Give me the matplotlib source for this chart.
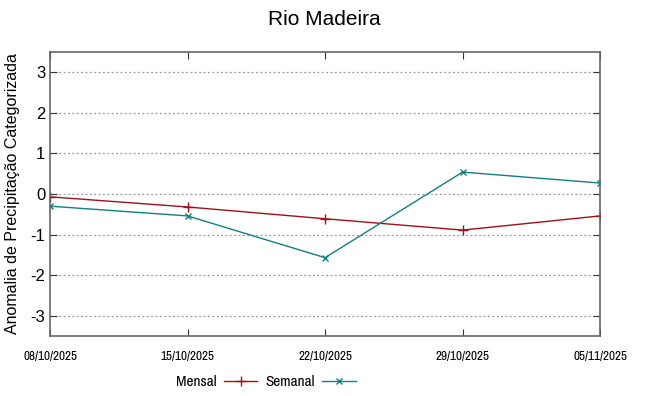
import matplotlib.pyplot as plt

datas = ["08/10/2025", "15/10/2025", "22/10/2025", "29/10/2025", "05/11/2025"]
mensal = [-0.07, -0.32, -0.61, -0.89, -0.54]
semanal = [-0.30, -0.54, -1.57, 0.54, 0.27]
yticks = [-3, -2, -1, 0, 1, 2, 3]

estreita = ['Archivo Narrow', 'Roboto Condensed', 'DejaVu Sans']
plt.rcParams['font.family'] = ['Liberation Sans', 'DejaVu Sans']

fig = plt.figure(figsize=(6.48, 3.96), dpi=100)
ax = fig.add_axes([0.0772, 0.1515, 0.8488, 0.7172])

x = list(range(len(datas)))
l1, = ax.plot(x, mensal, color='#a0101a', lw=1, marker='+', ms=7, mew=1, label='Mensal')
l2, = ax.plot(x, semanal, color='#12807f', lw=1, marker='x', ms=5, mew=1, label='Semanal')

ax.set_xlim(0, len(datas) - 1)
ax.set_ylim(-3.5, 3.5)
ax.set_xticks(x)
ax.set_xticklabels(datas, fontfamily=estreita, fontsize=9.5)
ax.set_yticks(yticks)
ax.set_yticklabels([str(v) for v in yticks], fontsize=12)
ax.grid(True, axis='y', linestyle=(0, (1.5, 2)), color='#999999', lw=0.9)
ax.tick_params(direction='in', top=True, right=True, length=5, color='#333333')
ax.tick_params(axis='x', pad=11)
for s in ax.spines.values():
    s.set_color('#666666')
    s.set_linewidth(1.2)

ax.set_ylabel("Anomalia de Precipitação Categorizada", fontsize=11.5)
ax.yaxis.set_label_coords(-0.055, 0.5)
fig.suptitle("Rio Madeira", fontsize=15, y=0.975)

fig.legend(handles=[l1, l2], loc='center', bbox_to_anchor=(0.41, 0.035), ncol=2,
           frameon=False, markerfirst=False, handlelength=2.2, columnspacing=0.5,
           handletextpad=0.5, prop={'family': estreita, 'size': 11})

fig.savefig("out.png", dpi=100)
